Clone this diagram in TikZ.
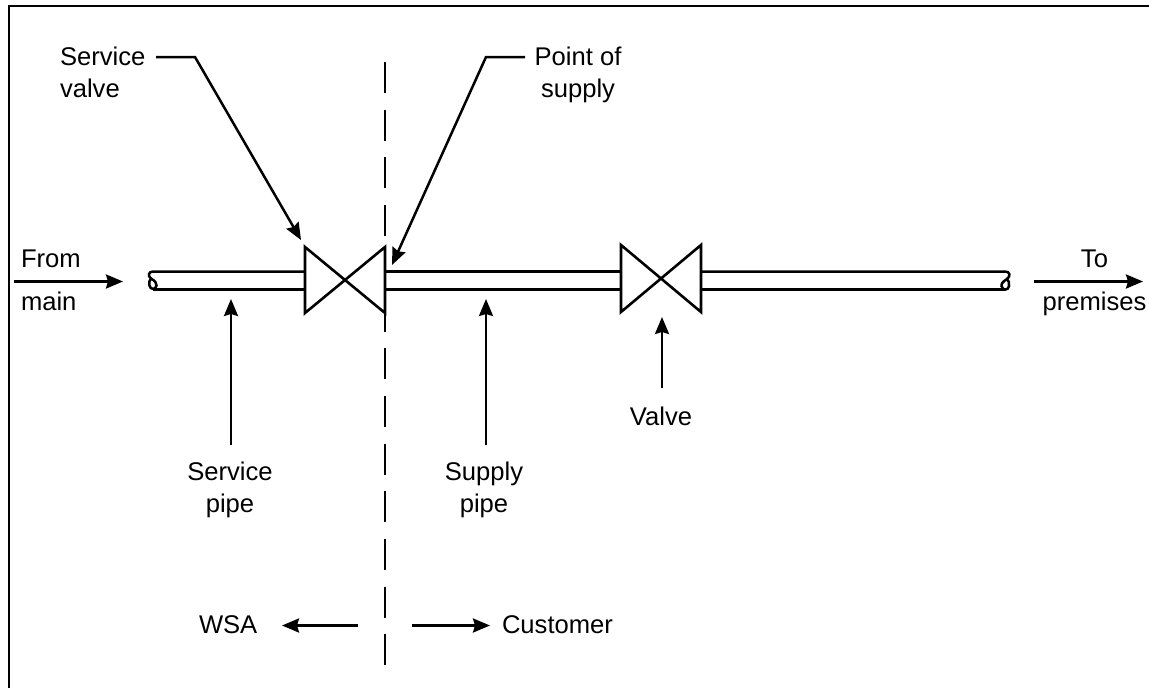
\documentclass[tikz,border=0pt]{standalone}
\usepackage{fontspec}
\setmainfont{Liberation Sans}
\usetikzlibrary{arrows.meta}
\tikzset{
  lab/.style={font=\fontsize{25.6}{32}\selectfont, inner sep=0pt, outer sep=0pt, text=black},
  labc/.style={lab, align=center},
  labl/.style={lab, align=left},
  pipe/.style={line width=2.5pt, black},
  valvebody/.style={line width=2.6pt, black, line join=miter, fill=white},
  frameline/.style={line width=2.6pt, black},
  arr/.style={line width=2.5pt, black, -{Stealth[length=17pt,width=14pt,inset=2pt]}},
  cutline/.style={line width=2.5pt, black, dash pattern=on 31pt off 16.7pt},
}
\begin{document}
\begin{tikzpicture}[x=1pt,y=-1pt]
\useasboundingbox (0,0) rectangle (1149,688);
% frame (open at right and bottom)
\coordinate (fa) at (9,688);
\coordinate (fb) at (9,6);
\coordinate (fc) at (1149,6);
\draw[frameline] (fa) -- (fb) -- (fc);

% division line
\coordinate (cuttop) at (385,62);
\coordinate (cutbot) at (385,667);
\draw[cutline] (cuttop) -- (cutbot);

% pipe sections
\draw[pipe] (305,271.5) -- (153,271.5) .. controls (148.5,271.5) and (147.5,276) .. (151,278.5)
   .. controls (155,281) and (157,283) .. (156.5,285.5)
   .. controls (156,290) and (150,290) .. (149.5,285.5)
   .. controls (149,282) and (149.5,280) .. (151,278.5);
\draw[pipe] (153,289.5) -- (305,289.5);
\draw[pipe] (385,271.5) -- (621,271.5);
\draw[pipe] (385,289.5) -- (621,289.5);
\draw[pipe] (701,271.5) -- (1005,271.5) .. controls (1010,271.5) and (1011,276) .. (1007,279)
   .. controls (1003,281.5) and (1001,284) .. (1001.5,286)
   .. controls (1002.5,291) and (1008.5,290.5) .. (1009,286)
   .. controls (1009.5,283) and (1009,281) .. (1007,279);
\draw[pipe] (701,289.5) -- (1005,289.5);

% valves
\coordinate (sv1) at (305,247); \coordinate (sv2) at (385,313);
\coordinate (sv3) at (385,247); \coordinate (sv4) at (305,313);
\draw[valvebody] (sv1) -- (sv2) -- (sv3) -- (sv4) -- cycle;
\coordinate (v1) at (621,245); \coordinate (v2) at (701,312);
\coordinate (v3) at (701,245); \coordinate (v4) at (621,312);
\draw[valvebody] (v1) -- (v2) -- (v3) -- (v4) -- cycle;

% labels
\node[labl, anchor=north west] (fromain) at (21,250) {From\\[10.5pt]main};
\node[labc, anchor=north] (topremises) at (1094.5,250) {To\\[10.5pt]premises};
\node[labl, anchor=north west] (servicevalve) at (60,47) {Service\\valve};
\node[labc, anchor=north] (pointsupply) at (578,47) {Point of\\supply};
\node[labc, anchor=north] (servicepipe) at (230,461.5) {Service\\pipe};
\node[labc, anchor=north] (supplypipe) at (484,461.5) {Supply\\pipe};
\node[lab, anchor=base] (valvelab) at (661,425) {Valve};
\node[lab, anchor=base west] (wsa) at (199,633) {WSA};
\node[lab, anchor=base west] (customer) at (502,633) {Customer};

% leaders
\coordinate (s1) at (156,57); \coordinate (s2) at (195,57); \coordinate (s3) at (301,240);
\draw[arr, line join=miter] (s1) -- (s2) -- (s3);
\coordinate (p1) at (525,57); \coordinate (p2) at (486,57); \coordinate (p3) at (392,265);
\draw[arr, line join=miter] (p1) -- (p2) -- (p3);

% arrows
\coordinate (fm1) at (14,281.5); \coordinate (fm2) at (123,281.5);
\draw[arr] (fm1) -- (fm2);
\coordinate (tp1) at (1034,281.5); \coordinate (tp2) at (1143,281.5);
\draw[arr] (tp1) -- (tp2);
\coordinate (sp1) at (231,445); \coordinate (sp2) at (231,299);
\draw[arr] (sp1) -- (sp2);
\coordinate (up1) at (486,445); \coordinate (up2) at (486,299);
\draw[arr] (up1) -- (up2);
\coordinate (vl1) at (662,388); \coordinate (vl2) at (662,317);
\draw[arr] (vl1) -- (vl2);
\coordinate (w1) at (358,625.5); \coordinate (w2) at (282,625.5);
\draw[arr] (w1) -- (w2);
\coordinate (c1) at (412,625.5); \coordinate (c2) at (490,625.5);
\draw[arr] (c1) -- (c2);
\end{tikzpicture}
\end{document}
